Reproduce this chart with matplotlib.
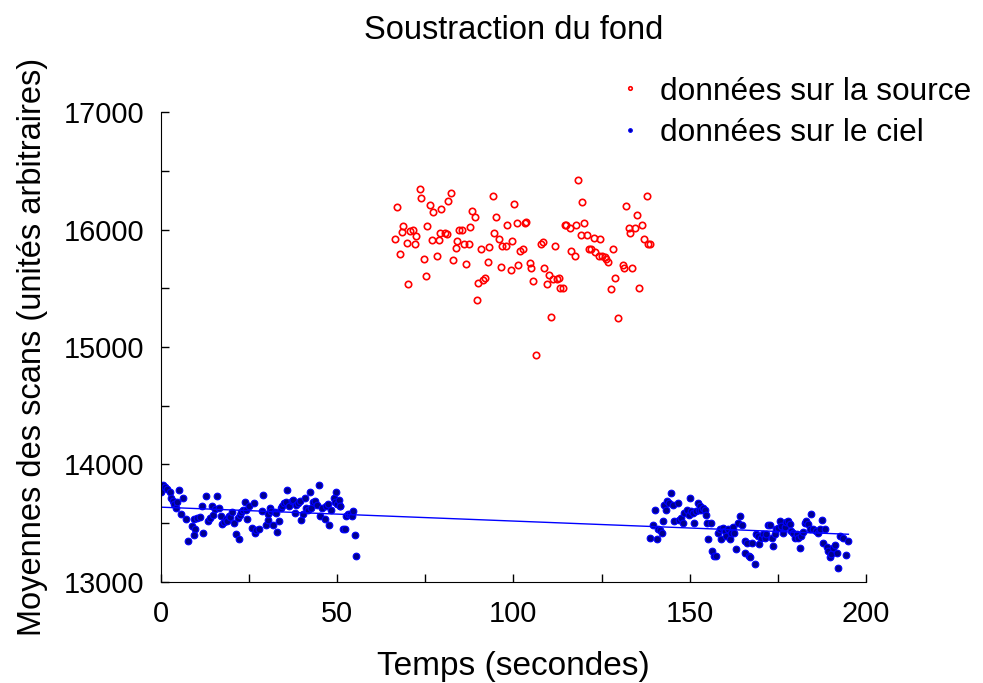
import numpy as np
import matplotlib
matplotlib.use("Agg")
import matplotlib.pyplot as plt
from matplotlib.ticker import MultipleLocator

plt.rcParams["font.family"] = ["Liberation Sans", "DejaVu Sans"]

# ---- on-source scans (time [s], mean value) ----
src_t = [66.9, 68.8, 68.3, 66.5, 67.9, 70.2, 69.7, 70.6, 71.5, 72.3, 72.0, 73.4,
         73.7, 74.6, 75.2, 75.6, 76.5, 77.3, 76.9, 78.3, 78.8, 79.2, 79.6, 80.7,
         81.1, 81.5, 82.4, 82.8, 83.7, 84.1, 84.6, 85.5, 86.0, 86.5, 87.3, 87.7,
         88.3, 89.2, 89.6, 90.0, 90.9, 91.4, 92.0, 92.8, 93.2, 94.1, 94.6, 95.1,
         96.0, 96.5, 96.9, 97.8, 98.2, 99.2, 99.6, 100.1, 100.9, 101.4, 101.9, 102.8,
         103.2, 103.7, 104.6, 105.1, 105.5, 106.4, 107.7, 108.3, 108.7, 109.6, 110.1, 110.6,
         111.1, 111.9, 112.4, 112.8, 113.3, 114.2, 114.7, 115.0, 116.0, 116.4, 117.4, 117.9,
         118.2, 119.2, 119.6, 120.1, 121.0, 121.4, 121.9, 122.8, 123.2, 124.2, 124.7, 125.0,
         126.0, 126.4, 126.9, 127.8, 128.2, 128.7, 129.6, 131.0, 131.4, 131.8, 132.8, 133.2,
         133.7, 134.6, 135.0, 135.5, 136.5, 136.9, 137.8, 138.2, 138.7]
src_y = [16191, 16028, 15983, 15917, 15792, 15532, 15889, 15985, 16000, 15943, 15874, 16342,
         16273, 15752, 15601, 16028, 16208, 16148, 15915, 15778, 15915, 15972, 16177, 15972,
         15965, 16245, 16314, 15738, 15844, 15903, 15997, 15997, 15874, 15709, 15874, 16026,
         16162, 16105, 15396, 15544, 15835, 15567, 15587, 15724, 15849, 16285, 15972, 16109,
         15917, 15681, 15861, 15861, 16040, 15656, 15903, 16216, 16054, 15698, 15821, 15835,
         16054, 16068, 15712, 15669, 15562, 14932, 15878, 15891, 15669, 15532, 15615, 15259,
         15575, 15861, 15575, 15590, 15504, 15504, 16040, 16040, 16011, 15821, 15778, 16040,
         16425, 15957, 16231, 16054, 15957, 15835, 15835, 15932, 15806, 15778, 15917, 15778,
         15767, 15752, 15724, 15493, 15835, 15587, 15245, 15698, 15669, 16205, 16011, 15972,
         15669, 16011, 16122, 15504, 16040, 15917, 16285, 15874, 15874]

# ---- off-source (sky) scans ----
sky_t = [0.0, 0.75, 1.2, 1.9, 2.5, 2.8, 3.4, 3.8, 4.3, 4.7, 5.1, 5.7, 6.4, 7.1, 7.8,
         8.8, 9.3, 9.7, 9.4, 10.4, 11.1, 11.6, 11.9, 12.7, 13.5, 14.0, 14.4, 14.9, 15.4,
         15.9, 16.5, 17.0, 17.3, 17.9, 18.5, 18.9, 19.3, 19.6, 20.1, 20.9, 21.3, 21.8,
         22.3, 22.5, 22.9, 23.4, 23.9, 24.3, 24.6, 25.1, 25.9, 26.4, 26.7, 26.9, 27.8,
         28.6, 29.1, 29.8, 30.3, 30.5, 31.1, 31.4, 31.9, 32.4, 32.8, 33.1, 33.6, 34.0,
         34.5, 35.0, 35.5, 35.9, 36.3, 37.1, 37.6, 38.1, 38.5, 39.0, 39.4, 39.9, 40.4,
         40.9, 41.3, 41.8, 42.3, 42.7, 43.2, 43.7, 44.2, 44.9, 45.3, 45.8, 46.5, 46.8,
         47.5, 47.7, 48.4, 49.1, 49.3, 49.8, 50.0, 50.6, 50.8, 50.9, 51.7, 52.2, 52.6,
         53.1, 53.6, 54.1, 54.5, 55.0, 55.3,
         138.7, 139.5, 140.2, 140.6, 140.9, 141.6, 142.1, 142.3, 142.8, 143.3, 143.7,
         144.2, 144.7, 145.2, 145.6, 146.6, 147.1, 147.5, 148.0, 148.5, 149.2, 149.7,
         150.1, 150.4, 150.9, 151.3, 151.8, 152.3, 152.6, 152.9, 153.2, 153.7, 154.2,
         154.5, 154.8, 155.1, 156.1, 156.4, 157.0, 157.5, 158.0, 158.6, 158.9, 159.4,
         159.9, 160.2, 160.8, 161.3, 161.8, 162.2, 162.7, 163.2, 163.7, 164.3, 164.9,
         165.6, 165.8, 166.2, 166.8, 167.2, 167.7, 168.4, 168.9, 169.4, 169.6, 170.3,
         170.8, 171.3, 171.7, 172.2, 172.7, 173.2, 173.6, 174.1, 174.6, 175.1, 175.5,
         176.0, 176.5, 176.9, 177.4, 177.9, 178.4, 178.8, 179.3, 179.8, 180.3, 180.7,
         181.2, 181.7, 182.2, 182.6, 183.1, 183.6, 184.1, 184.5, 185.0, 185.8, 186.4,
         186.9, 187.4, 187.9, 188.3, 188.8, 189.3, 189.8, 190.2, 190.7, 191.2, 191.7,
         192.1, 192.6, 193.6, 194.3, 195.0]
sky_y = [13767, 13823, 13809, 13787, 13767, 13711, 13683, 13663, 13627, 13674, 13776,
         13579, 13711, 13534, 13346, 13472, 13534, 13450, 13393, 13542, 13551, 13646,
         13410, 13725, 13520, 13542, 13646, 13570, 13618, 13725, 13627, 13562, 13489,
         13506, 13534, 13514, 13562, 13551, 13590, 13495, 13402, 13542, 13360, 13570,
         13590, 13607, 13674, 13613, 13534, 13646, 13458, 13669, 13416, 13438, 13444,
         13599, 13739, 13478, 13523, 13579, 13627, 13599, 13478, 13590, 13584, 13422,
         13514, 13627, 13641, 13669, 13674, 13776, 13646, 13683, 13697, 13584, 13655,
         13669, 13683, 13523, 13579, 13711, 13627, 13607, 13759, 13627, 13674, 13683,
         13655, 13823, 13556, 13627, 13534, 13646, 13663, 13478, 13613, 13711, 13674,
         13767, 13663, 13697, 13646, 13641, 13450, 13450, 13562, 13579, 13579, 13556,
         13599, 13393, 13214,
         13374, 13478, 13613, 13360, 13450, 13438, 13410, 13514, 13655, 13613, 13683,
         13669, 13753, 13655, 13514, 13669, 13528, 13542, 13500, 13584, 13607, 13570,
         13711, 13599, 13584, 13500, 13599, 13669, 13613, 13641, 13607, 13627, 13613,
         13570, 13495, 13360, 13495, 13261, 13214, 13214, 13416, 13444, 13360, 13458,
         13430, 13388, 13444, 13360, 13416, 13466, 13410, 13275, 13500, 13562, 13478,
         13346, 13247, 13332, 13219, 13205, 13326, 13149, 13402, 13388, 13318, 13374,
         13402, 13374, 13402, 13478, 13478, 13374, 13303, 13402, 13444, 13458, 13514,
         13472, 13416, 13466, 13506, 13514, 13486, 13430, 13416, 13374, 13402, 13374,
         13289, 13388, 13422, 13500, 13514, 13486, 13444, 13579, 13444, 13430, 13416,
         13450, 13528, 13332, 13444, 13298, 13261, 13205, 13233, 13289, 13309, 13247,
         13112, 13388, 13374, 13225, 13346]

sky_t = np.array(sky_t); sky_y = np.array(sky_y)

# linear background fit on sky scans
p = np.polyfit(sky_t, sky_y, 1)
fit_t = np.array([sky_t.min(), sky_t.max()])

fig = plt.figure(figsize=(9.83, 6.83), dpi=100)
ax = fig.add_axes([0.1635, 0.1486, 0.7175, 0.687])

ax.plot(src_t, src_y, "o", ls="none", ms=4.6, mfc="none", mec="#ff0000", mew=1.2,
        label="données sur la source")
ax.plot(sky_t, sky_y, "o", ls="none", ms=4.8, mfc="#000090", mec="#0000ff", mew=0.8,
        label="données sur le ciel")
ax.plot(fit_t, np.polyval(p, fit_t), color="#0000ff", lw=1.0)

ax.set_xlim(0, 200)
ax.set_ylim(13000, 17000)
ax.xaxis.set_major_locator(MultipleLocator(50))
ax.xaxis.set_minor_locator(MultipleLocator(25))
ax.yaxis.set_major_locator(MultipleLocator(1000))
ax.yaxis.set_minor_locator(MultipleLocator(500))
ax.tick_params(which="both", direction="in", length=6, width=1, labelsize=20.8)
ax.tick_params(axis="x", pad=13)
ax.tick_params(axis="y", pad=12)
for s in ("top", "right"):
    ax.spines[s].set_visible(False)

ax.set_xlabel("Temps (secondes)", fontsize=24, labelpad=17)
ax.set_ylabel("Moyennes des scans (unités arbitraires)", fontsize=23.5, labelpad=11)
fig.text(0.5225, 0.955, "Soustraction du fond", fontsize=23.5, ha="center", va="center")

ax.legend(loc="upper left", bbox_to_anchor=(0.607, 1.137), frameon=False,
          fontsize=22.8, markerscale=0.55, handletextpad=0.55, labelspacing=0.35,
          handlelength=0.8)

fig.savefig("out.png", dpi=100)
